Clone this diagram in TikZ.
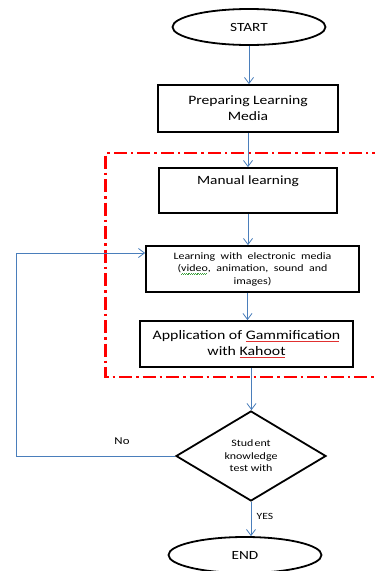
\documentclass[tikz,border=0pt]{standalone}
\usepackage{fontspec}
\setmainfont{Carlito}[FakeStretch=1.22]
\usetikzlibrary{arrows.meta,shapes.geometric}
\definecolor{arrowblue}{HTML}{4A7EBB}
\definecolor{dashred}{HTML}{FF0000}
\definecolor{spellred}{HTML}{E03030}
\definecolor{spellgreen}{HTML}{40A040}
\newsavebox{\squigbox}
\newcommand{\squigword}[2]{\sbox{\squigbox}{#2}\rlap{\raisebox{-2.6pt}{\color{#1}\hbox to\wd\squigbox{\leaders\hbox{\rule{0.9pt}{0.45pt}\raisebox{0.55pt}{\rule{0.9pt}{0.45pt}}}\hfill}}}\usebox{\squigbox}}
\begin{document}
\begin{tikzpicture}[x=1pt,y=-1pt,
  stepbox/.style={draw=black,line width=1.8pt,rectangle,inner sep=2pt,align=center},
  term/.style={draw=black,line width=1.8pt,ellipse,minimum width=153pt,minimum height=36pt,inner sep=0pt,font=\fontsize{12.5}{14}\selectfont},
  decide/.style={draw=black,line width=1.8pt,diamond,minimum width=150pt,minimum height=90pt,inner sep=0pt,align=center,font=\fontsize{9.8}{12.5}\selectfont},
  flow/.style={draw=arrowblue,line width=0.8pt,-{Straight Barb[length=6pt,width=9pt,line width=0.8pt]}},
  lbl/.style={inner sep=0pt,font=\fontsize{10.5}{11}\selectfont}]
\useasboundingbox (0,0) rectangle (375,571);
\node[term] (start) at (249,27) {START};
\node[stepbox,minimum width=180pt,minimum height=47pt,font=\fontsize{12.8}{16}\selectfont] (prep) at (248,108.5) {Preparing Learning\\Media};
\node[stepbox,minimum width=178pt,minimum height=45pt,font=\fontsize{12.6}{15}\selectfont] (manual) at (248,190.5) {Manual learning\\[1pt]\strut};
\node[stepbox,minimum width=213pt,minimum height=46pt,font=\fontsize{9.8}{12.5}\selectfont] (elec) at (252.5,269) {Learning\ \ with\ \ electronic\ \ media\\(\squigword{spellgreen}{video},\ \ animation,\ \ sound\ \ and\\images)};
\node[stepbox,minimum width=213pt,minimum height=46pt,font=\fontsize{13}{16}\selectfont] (app) at (246.5,344) {Application of \squigword{spellred}{Gammification}\\with \squigword{spellred}{Kahoot}};
\node[decide] (dia) at (251,456) {Stud\hspace{1.2pt}ent\\knowledge\\test with};
\node[term] (end) at (245,555) {END};
\draw[dashred,line width=2.4pt,dash pattern=on 13pt off 4pt on 2.5pt off 4pt] (385,153) -- (105.5,153) -- (105.5,377) -- (385,377);
\coordinate (loop) at (16,456);
\draw[flow] (start.south) -- (start.south |- prep.north);
\draw[flow] (prep.south) -- (prep.south |- manual.north);
\draw[flow] (manual.south) -- (manual.south |- elec.north);
\draw[flow] ([xshift=-5pt]elec.south) -- ([xshift=-5pt]elec.south |- app.north);
\draw[flow] ([xshift=5pt]app.south) -- ([xshift=5pt]app.south |- dia.north);
\draw[flow] (dia.west) -- (loop) |- ([yshift=16pt]elec.west);
\draw[flow] (dia.south) -- (dia.south |- end.north);
\node[lbl] (no) at (122,441) {No};
\node[lbl,font=\fontsize{9.5}{11}\selectfont] (yes) at (265,516) {YES};
\end{tikzpicture}
\end{document}
